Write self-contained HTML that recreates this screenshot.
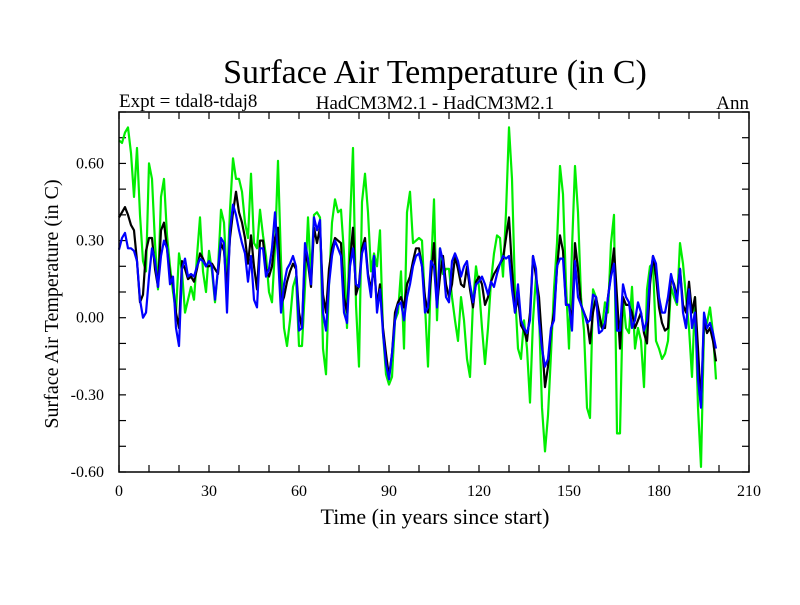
<!DOCTYPE html>
<html><head><meta charset="utf-8"><style>
body{margin:0;background:#fff;}
svg text{font-family:"Liberation Serif",serif;fill:#000;}
</style></head><body>
<svg id="chart" width="800" height="600" xmlns="http://www.w3.org/2000/svg">
<rect width="800" height="600" fill="#fff"/>
<text x="435" y="83" font-size="34" text-anchor="middle">Surface Air Temperature (in C)</text>
<text x="119" y="107" font-size="19">Expt = tdal8-tdaj8</text>
<text x="435" y="109" font-size="19" text-anchor="middle">HadCM3M2.1 - HadCM3M2.1</text>
<text x="749" y="109" font-size="19" text-anchor="end">Ann</text>
<text x="435" y="524" font-size="22" text-anchor="middle">Time (in years since start)</text>
<text x="0" y="0" font-size="20" text-anchor="middle" transform="translate(58,304) rotate(-90)">Surface Air Temperature (in C)</text>
<g id="ticks"></g>
<g id="series"></g>
<rect x="119" y="112" width="630" height="360" fill="none" stroke="#000" stroke-width="1.5"/>
</svg>
<script>
const years = Array.from({length:200},(_, i)=>i);
const yTickValues = [-0.6,-0.3,0,0.3,0.6];
const yTickLabels = ["-0.60","-0.30","0.00","0.30","0.60"];
const xTickValues = [0,30,60,90,120,150,180,210];
const xTickLabels = ["0","30","60","90","120","150","180","210"];
const blackSeries = [.39,.41,.43,.40,.36,.34,.22,.06,.09,.26,
.31,.31,.19,.12,.34,.37,.27,.17,.13,.02,
-.04,.22,.19,.15,.16,.14,.19,.25,.23,.20,
.20,.21,.19,.17,.29,.26,.11,.31,.41,.49,
.41,.37,.31,.21,.32,.20,.11,.30,.30,.19,
.16,.20,.31,.35,.05,.08,.14,.18,.21,.19,
.02,-.04,.25,.21,.12,.35,.29,.35,.09,.02,
.19,.27,.31,.30,.29,.08,.02,.22,.35,.09,
.13,.27,.31,.17,.11,.20,.05,.13,-.04,-.14,
-.23,-.14,.02,.06,.08,.04,.13,.16,.22,.27,
.27,.20,.08,.02,.16,.29,.05,.16,.24,.13,
.08,.13,.24,.19,.13,.12,.20,.11,.04,.14,
.16,.13,.05,.08,.14,.17,.19,.21,.23,.31,
.39,.19,.02,.08,-.03,-.05,-.09,.02,.24,.16,
.08,-.09,-.27,-.19,-.05,.02,.19,.32,.26,.05,
.05,-.01,.29,.19,.05,.02,-.01,-.10,.02,.08,
.02,-.04,-.04,.08,.17,.27,.08,-.12,.08,.05,
.05,.02,-.04,-.01,.02,-.06,-.10,.13,.24,.16,
.04,-.02,-.05,-.04,.16,.13,.08,.19,.05,.02,
.14,.02,.08,-.12,-.34,-.01,-.06,-.04,-.09,-.17];
const blueSeries = [.265,.31,.33,.27,.27,.26,.22,.07,.0,.02,
.16,.27,.22,.12,.24,.30,.27,.13,.16,-.04,
-.11,.19,.23,.16,.17,.16,.20,.23,.22,.20,
.22,.20,.07,.19,.31,.29,.02,.34,.44,.40,
.34,.29,.25,.14,.24,.07,.04,.27,.27,.16,
.19,.27,.41,.24,.02,.13,.19,.21,.24,.20,
-.05,-.04,.29,.23,.13,.39,.34,.38,.02,-.05,
.13,.24,.30,.27,.24,.02,-.02,.20,.27,.13,
.12,.25,.29,.16,.08,.24,.02,.11,-.06,-.18,
-.24,-.14,-.01,.05,.06,-.01,.08,.13,.20,.24,
.25,.20,.02,.04,.22,.20,.04,.27,.22,.08,
.06,.22,.25,.22,.16,.20,.22,.13,.06,.13,
.14,.16,.13,.09,.14,.12,.17,.21,.24,.23,
.24,.11,.02,.13,-.01,-.04,-.06,-.01,.24,.19,
-.01,-.12,-.19,-.16,-.04,-.01,.20,.23,.23,.05,
.05,-.05,.22,.08,.05,.02,-.02,-.01,.09,.08,
-.06,-.05,-.02,.08,.16,.21,-.05,-.05,.13,.08,
.06,-.04,-.01,.06,.02,-.05,-.01,.16,.24,.21,
.08,.02,.02,.08,.17,.12,.06,.19,.02,-.04,
.11,-.04,.02,-.24,-.35,.02,-.04,-.02,-.06,-.12];
const greenSeries = [.69,.68,.72,.74,.64,.47,.66,.40,.22,.18,
.60,.54,.29,.11,.47,.54,.32,.20,.10,.02,
.25,.18,.02,.07,.12,.07,.24,.39,.18,.10,
.26,.18,.06,.19,.42,.37,.13,.42,.62,.54,
.54,.49,.37,.31,.56,.29,.27,.42,.32,.24,
.10,.06,.27,.61,.22,-.04,-.11,-.01,.12,.16,
-.11,-.11,.12,.39,.16,.40,.41,.39,-.12,-.22,
.13,.37,.46,.41,.42,.25,-.04,.37,.66,.05,
-.19,.45,.56,.41,.18,.25,.20,.34,-.06,-.22,
-.26,-.23,-.01,.02,.18,-.12,.41,.49,.29,.30,
.31,.30,.05,-.19,.18,.46,-.01,.27,.17,.19,
.19,.08,-.01,-.09,.08,-.01,-.16,-.23,.06,.20,
.12,-.04,-.18,-.04,.14,.25,.32,.31,.16,.41,
.74,.54,.10,-.12,-.16,-.01,-.12,-.33,-.01,.16,
.02,-.35,-.52,-.38,-.14,.11,.29,.59,.48,.13,
-.12,.27,.59,.41,.08,-.05,-.35,-.39,.11,.08,
-.02,-.04,.06,.02,.29,.40,-.45,-.45,.08,-.04,
-.06,.12,-.12,-.04,-.09,-.27,.11,.20,.21,-.09,
-.12,-.16,-.14,-.09,.12,.08,.05,.29,.21,.08,
-.04,-.23,.08,-.35,-.58,-.04,-.02,.04,-.06,-.24];

const X0=119, X1=749, Y0=472, Y1=112;
function xs(t){return X0+(t-0)/(210-0)*(X1-X0);}
function ys(v){return Y0-(v-(-0.6))/(0.8-(-0.6))*(Y0-Y1);}
const NS="http://www.w3.org/2000/svg";
const tg=document.getElementById('ticks');
function mk(tag,attrs,parent){const e=document.createElementNS(NS,tag);for(const k in attrs)e.setAttribute(k,attrs[k]);parent.appendChild(e);return e;}
for(let i=-6;i<=8;i++){
  const y=ys(i/10);
  const l=mk('line',{x1:X0,x2:X0+7,y1:y,y2:y,stroke:'#000','stroke-width':1.2},tg);
  
  
  const r=mk('line',{x1:X1-7,x2:X1,y1:y,y2:y,stroke:'#000','stroke-width':1.2},tg);
  
  
}
for(let t=0;t<=210;t+=10){
  const x=xs(t);
  const b=mk('line',{x1:x,x2:x,y1:Y0,y2:Y0-7,stroke:'#000','stroke-width':1.2},tg);
  
  
  const tp=mk('line',{x1:x,x2:x,y1:Y1,y2:Y1+7,stroke:'#000','stroke-width':1.2},tg);
  
  
}
yTickValues.forEach((v,i)=>{
  const t=mk('text',{x:104,y:ys(v)+5,'font-size':16,'text-anchor':'end'},tg);
  t.textContent=yTickLabels[i];
  
  
});
xTickValues.forEach((v,i)=>{
  const t=mk('text',{x:xs(v),y:496,'font-size':16,'text-anchor':'middle'},tg);
  t.textContent=xTickLabels[i];
  
  
});
const sg=document.getElementById('series');
function line(vals,color,name){
  const pts=vals.map((v,i)=>xs(years[i]).toFixed(1)+','+ys(v).toFixed(1)).join(' ');
  const p=mk('polyline',{points:pts,fill:'none',stroke:color,'stroke-width':2.2,'stroke-linejoin':'round'},sg);
  
  
}
line(greenSeries,'#00ee00','green-series-line');
line(blackSeries,'#000000','black-series-line');
line(blueSeries,'#0000ff','blue-series-line');
</script>
</body></html>
